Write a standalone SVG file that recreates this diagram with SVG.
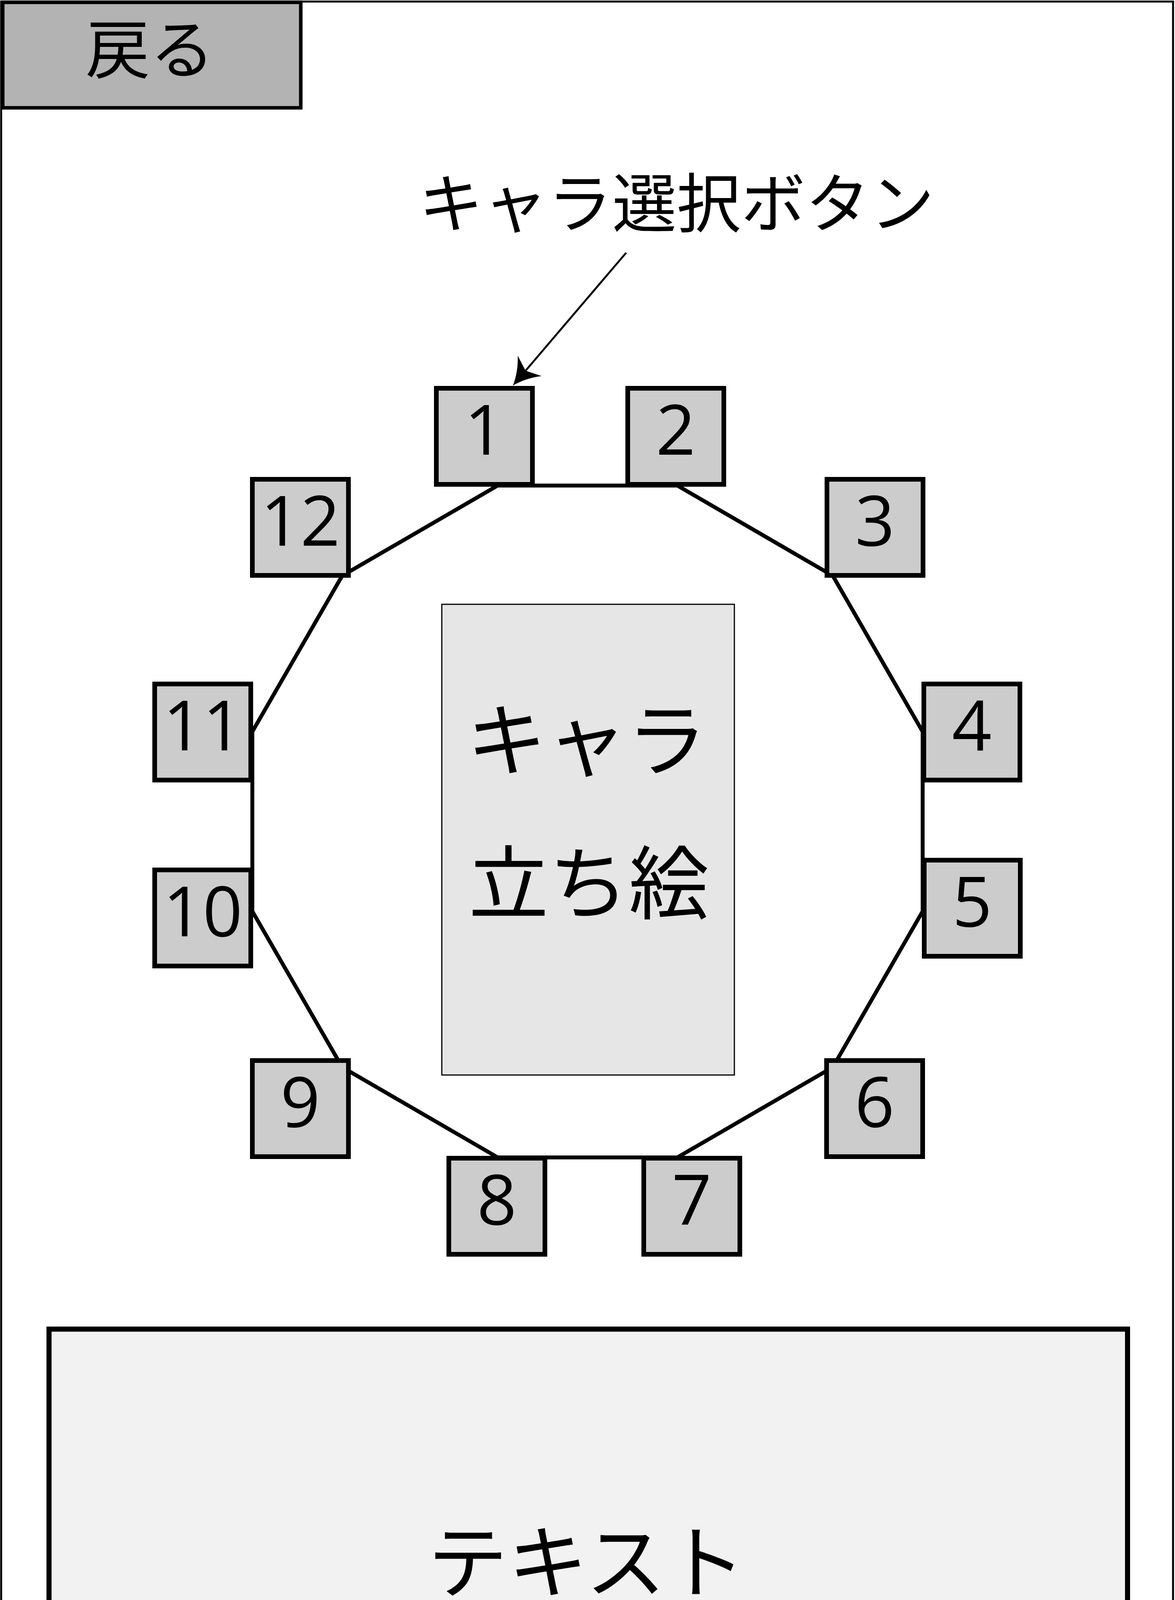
<svg xmlns="http://www.w3.org/2000/svg" width="3008" height="5341" viewBox="0 0 3008 5341">
<defs>
<style>
.frame{fill:#ffffff;stroke:#000;stroke-width:5}
.btn{fill:#b3b3b3;stroke:#000;stroke-width:9}
.btn2{fill:#b3b3b3;stroke:#000;stroke-width:12}
.sel{fill:#cccccc;stroke:#000;stroke-width:12}
.pic{fill:#e6e6e6;stroke:#000;stroke-width:3}
.txtbox{fill:#f2f2f2;stroke:#000;stroke-width:13}
.ring{fill:none;stroke:#000;stroke-width:10;stroke-linejoin:miter}
.lead{fill:none;stroke:#000;stroke-width:5}
.jp{font-family:"Noto Sans CJK JP","Noto Sans",sans-serif;fill:#000;text-anchor:middle}
.num{font-family:"Open Sans","Noto Sans",sans-serif;font-size:178px;fill:#000;text-anchor:middle}
</style>
<marker id="arrow" markerUnits="userSpaceOnUse" viewBox="-70 -45 75 90" markerWidth="75" markerHeight="90" refX="-50" refY="0" orient="auto" overflow="visible">
<path d="M0,0 Q-35,-12 -66,-40 L-50,0 L-66,40 Q-35,12 0,0 Z" fill="#000"/>
</marker>
</defs>
<rect x="0" y="0" width="3008" height="5341" fill="#ffffff"/>
<rect class="frame" x="3" y="4" width="3000" height="5333"/>

<g id="connectors">
<polygon class="ring" points="1274,1243 1734,1243 2132,1474 2362,1873 2362,2333 2132,2732 1734,2963 1274,2963 876,2732 646,2333 646,1873 876,1474"/>
<line class="lead" x1="1603" y1="647" x2="1345.5" y2="949" marker-end="url(#arrow)"/>
</g>

<g id="back">
<rect class="btn" x="7" y="6" width="763" height="270"/>
<text class="jp" x="384" y="187" font-size="165">戻る</text>
</g>

<g id="label">
<text class="jp" x="1732" y="581" font-size="165">キャラ選択ボタン</text>
</g>

<g id="b1"><rect class="sel" x="1117" y="994" width="246" height="246"/><text class="num" x="1240" y="1164">1</text></g>
<g id="b2"><rect class="sel" x="1607" y="994" width="246" height="246"/><text class="num" x="1730" y="1164">2</text></g>
<g id="b12"><rect class="sel" x="646" y="1227" width="246" height="246"/><text class="num" x="769" y="1397">12</text></g>
<g id="b3"><rect class="sel" x="2117" y="1227" width="246" height="246"/><text class="num" x="2240" y="1397">3</text></g>
<g id="b11"><rect class="sel" x="396" y="1751" width="246" height="246"/><text class="num" x="519" y="1921">11</text></g>
<g id="b4"><rect class="sel" x="2365" y="1751" width="246" height="246"/><text class="num" x="2488" y="1921">4</text></g>
<g id="b10"><rect class="sel" x="396" y="2227" width="246" height="246"/><text class="num" x="519" y="2397">10</text></g>
<g id="b5"><rect class="sel" x="2366" y="2202" width="246" height="246"/><text class="num" x="2489" y="2372">5</text></g>
<g id="b9"><rect class="sel" x="646" y="2715" width="246" height="246"/><text class="num" x="769" y="2885">9</text></g>
<g id="b6"><rect class="sel" x="2116" y="2715" width="246" height="246"/><text class="num" x="2239" y="2885">6</text></g>
<g id="b8"><rect class="sel" x="1149" y="2965" width="246" height="246"/><text class="num" x="1272" y="3135">8</text></g>
<g id="b7"><rect class="sel" x="1648" y="2965" width="246" height="246"/><text class="num" x="1771" y="3135">7</text></g>

<g id="portrait">
<rect class="pic" x="1131" y="1547" width="749" height="1205"/>
<text class="jp" x="1502" y="1970" font-size="205">キャラ</text>
<text class="jp" x="1507" y="2336" font-size="205">立ち絵</text>
</g>

<g id="textarea">
<rect class="txtbox" x="125.5" y="3402.5" width="2761" height="1232"/>
<text class="jp" x="1502" y="4074" font-size="205">テキスト</text>
</g>

<g id="decide">
<rect class="btn2" x="1016" y="4847" width="978" height="244"/>
<text class="jp" x="1505" y="5016" font-size="170">決定</text>
</g>
</svg>
